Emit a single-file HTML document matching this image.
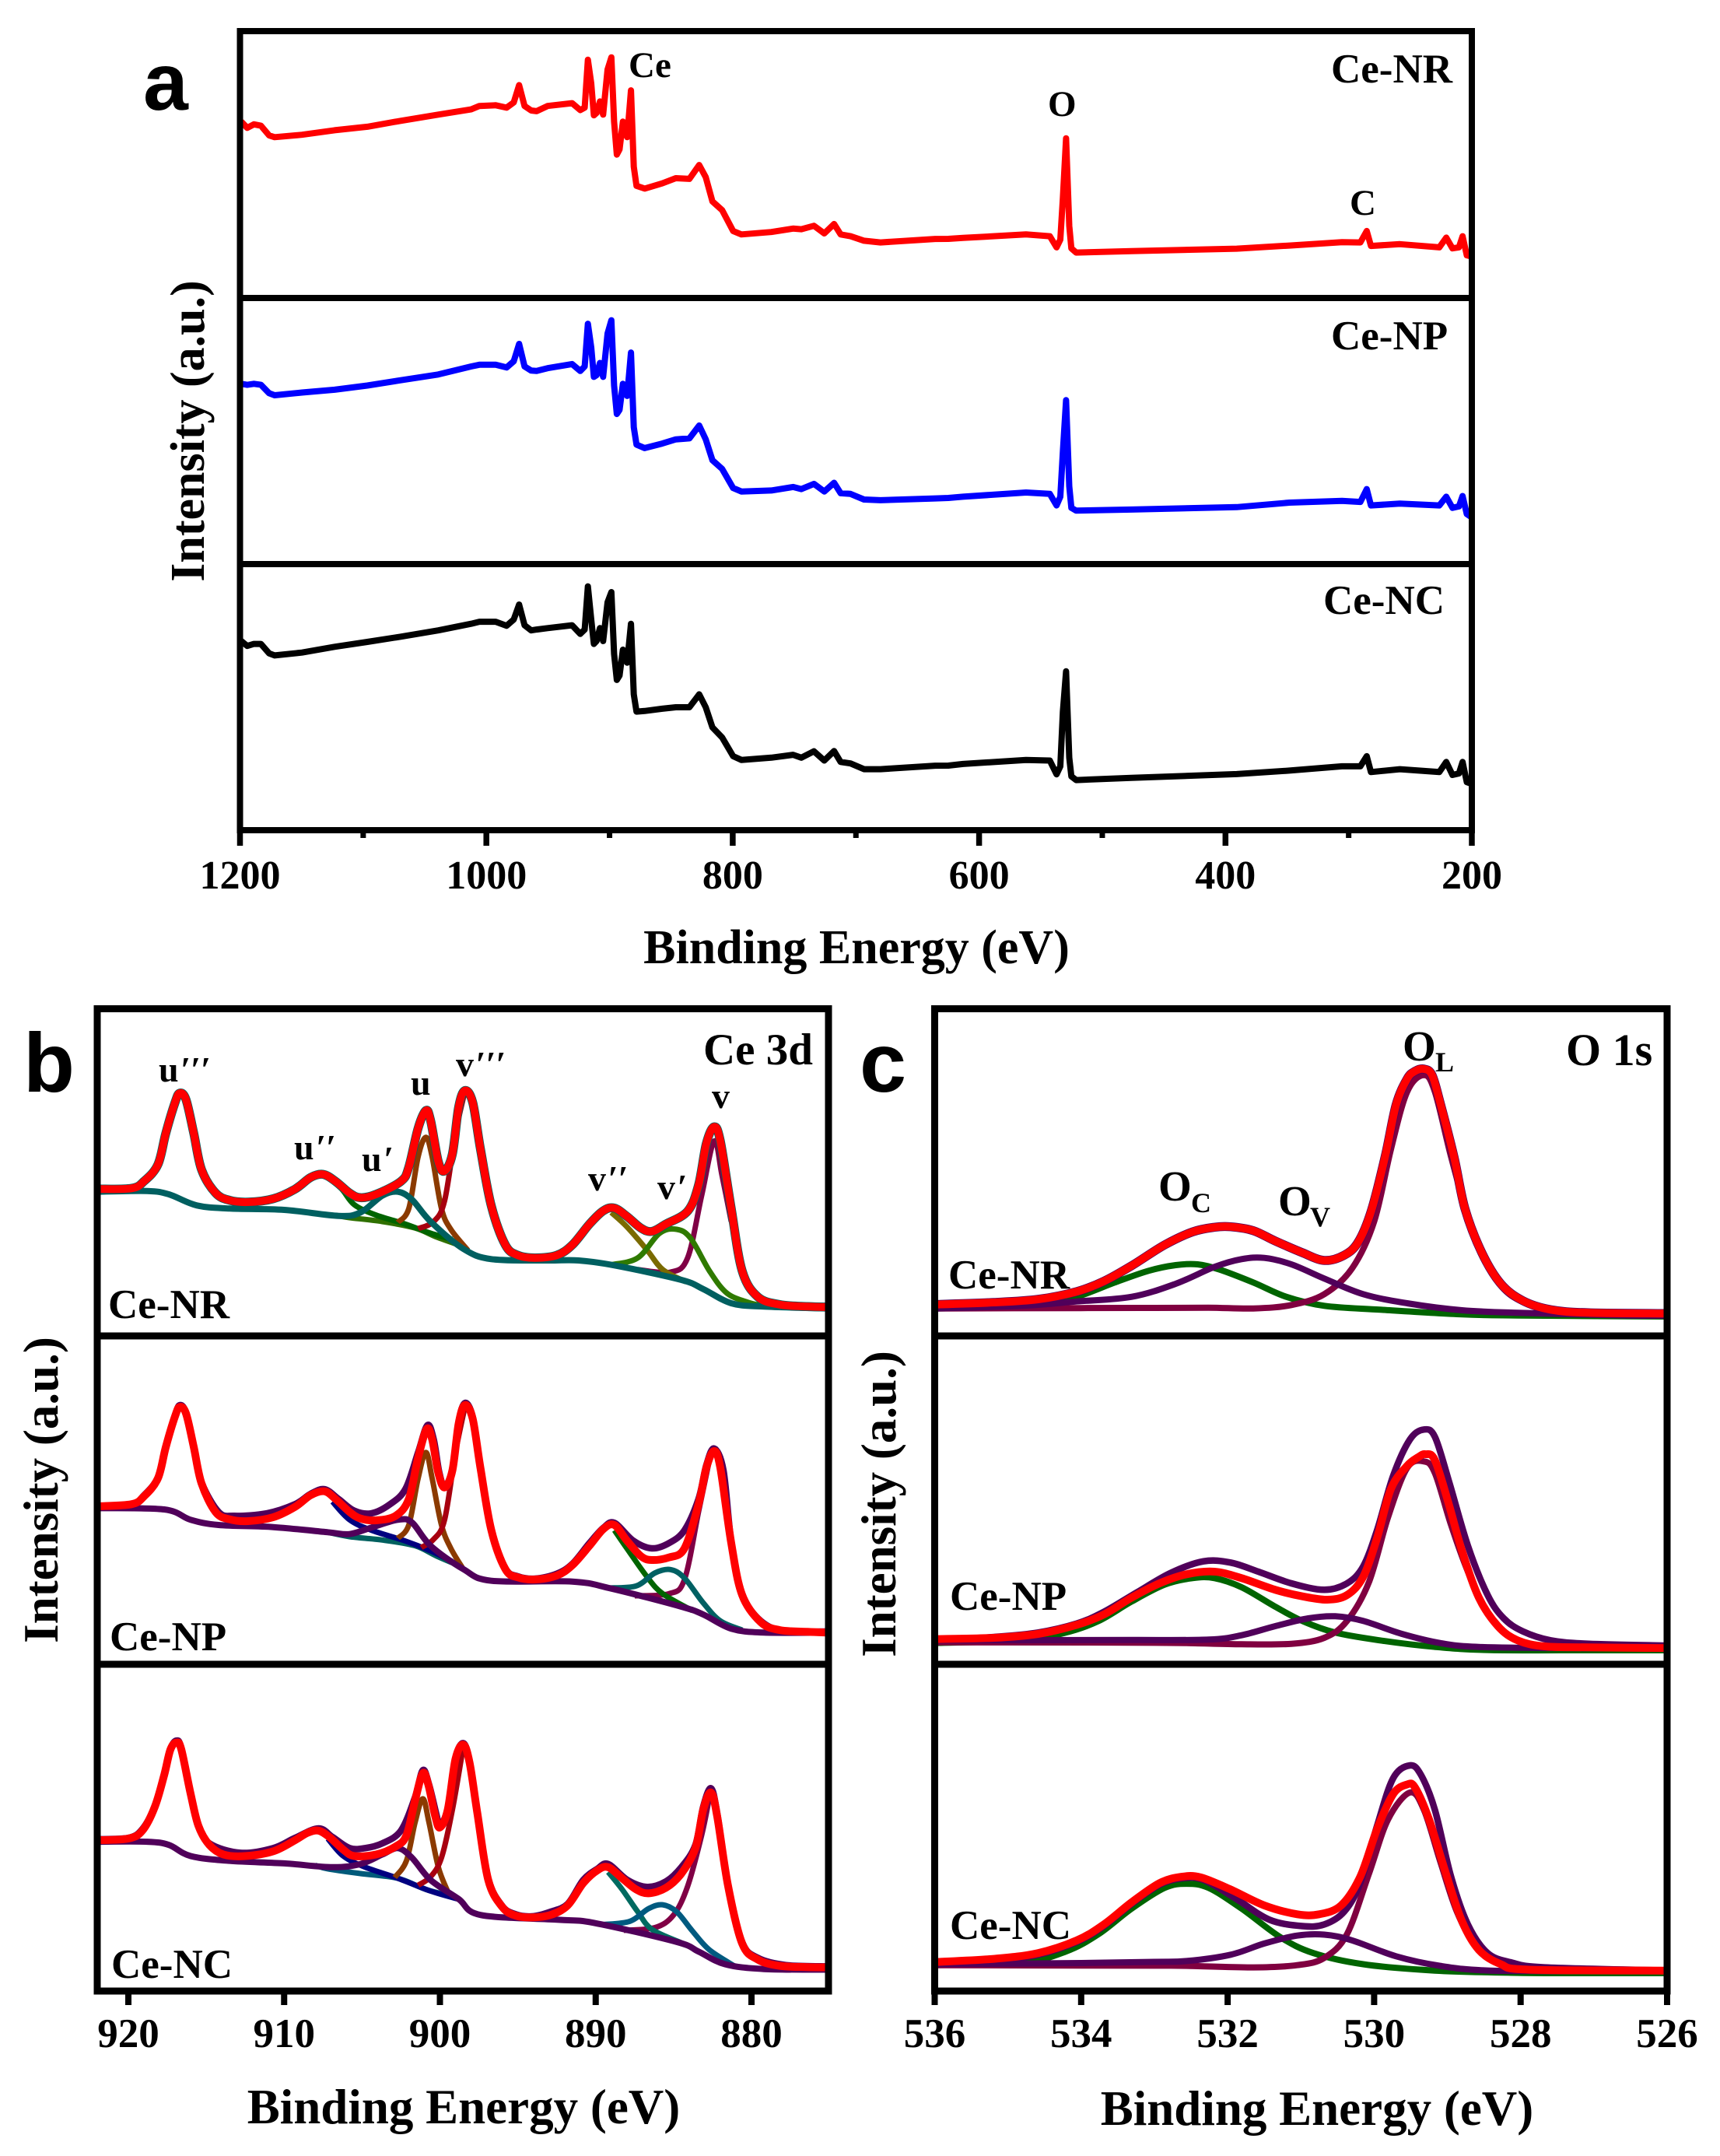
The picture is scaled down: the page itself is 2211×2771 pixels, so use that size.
<!DOCTYPE html>
<html lang="en">
<head>
<meta charset="utf-8">
<title>XPS spectra of Ce-NR, Ce-NP and Ce-NC</title>
<style>
html,body{margin:0;padding:0;background:#fff;}
svg{display:block;}
text{font-family:"Liberation Serif","DejaVu Serif",serif;font-weight:700;fill:#000;}
.panel-letter{font-family:"Liberation Sans","DejaVu Sans",sans-serif;}
</style>
</head>
<body>
<svg id="figure" xmlns="http://www.w3.org/2000/svg" width="2211" height="2771" viewBox="0 0 2211 2771">
<rect x="0" y="0" width="2211" height="2771" fill="#ffffff"/>
<g id="marks"></g>
<g id="frames"></g>
<g id="ticks"></g>

<text class="panel-letter" x="184" y="141" font-size="104">a</text>
<text class="panel-letter" x="30" y="1403" font-size="108">b</text>
<text class="panel-letter" x="1105" y="1403" font-size="108">c</text>

<text x="1101" y="1238" font-size="62" text-anchor="middle">Binding Energy (eV)</text>
<text x="596" y="2729" font-size="63" text-anchor="middle">Binding Energy (eV)</text>
<text x="1693" y="2731" font-size="63" text-anchor="middle">Binding Energy (eV)</text>
<text transform="translate(262 554) rotate(-90)" font-size="62" text-anchor="middle">Intensity (a.u.)</text>
<text transform="translate(74 1915) rotate(-90)" font-size="63" text-anchor="middle">Intensity (a.u.)</text>
<text transform="translate(1151 1933) rotate(-90)" font-size="63" text-anchor="middle">Intensity (a.u.)</text>

<text x="808" y="99" font-size="47">Ce</text>
<text x="1347" y="149" font-size="47">O</text>
<text x="1735" y="276" font-size="47">C</text>
<text x="1711" y="106" font-size="53">Ce-NR</text>
<text x="1711" y="449" font-size="53">Ce-NP</text>
<text x="1701" y="789" font-size="53">Ce-NC</text>

<text x="204" y="1390" font-size="46">u<tspan font-style="italic" dx="2">′′′</tspan></text>
<text x="378" y="1490" font-size="46">u<tspan font-style="italic" dx="2">′′</tspan></text>
<text x="465" y="1505" font-size="46">u<tspan font-style="italic" dx="2">′</tspan></text>
<text x="528" y="1407" font-size="46">u</text>
<text x="586" y="1383" font-size="46">v<tspan font-style="italic" dx="2">′′′</tspan></text>
<text x="756" y="1530" font-size="46">v<tspan font-style="italic" dx="2">′′</tspan></text>
<text x="845" y="1541" font-size="46">v<tspan font-style="italic" dx="2">′</tspan></text>
<text x="915" y="1424" font-size="46">v</text>
<text x="904" y="1368" font-size="57">Ce 3d</text>
<text x="139" y="1694" font-size="53">Ce-NR</text>
<text x="141" y="2121" font-size="53">Ce-NP</text>
<text x="143" y="2542" font-size="53">Ce-NC</text>

<text x="2013" y="1369" font-size="58">O 1s</text>
<text x="1803" y="1363" font-size="55">O</text>
<text x="1845" y="1377" font-size="36">L</text>
<text x="1489" y="1543" font-size="55">O</text>
<text x="1531" y="1558" font-size="36">C</text>
<text x="1643" y="1562" font-size="55">O</text>
<text x="1684" y="1576" font-size="36">V</text>
<text x="1219" y="1656" font-size="53">Ce-NR</text>
<text x="1221" y="2069" font-size="53">Ce-NP</text>
<text x="1221" y="2492" font-size="53">Ce-NC</text>
</svg>

<script>
// ---- Panel a: survey spectra ----
const surveyEnergy = [1199,1194.1,1188.7,1183,1176.3,1171.9,1149.7,1123.2,1096.6,1070,1039,1012.4,1005.7,992.4,983.6,977.8,973.4,969,963.6,959.2,950.3,930.4,923.8,920.2,917.6,914.9,912.7,910.5,907.8,905.2,901.6,898.5,896.3,894.1,891.9,889.2,885.7,882.6,880.3,878.1,871.5,857.3,846.2,835.2,827.2,821.9,816.5,808.6,799.7,793,768.7,751,744.3,734.1,725.7,717.7,712.4,704.4,693.4,680.1,635.7,
625,613.1,561.9,542.6,537.1,534.1,532,529.4,526.8,525.1,521.2,476.4,390.9,348.1,305.4,290.5,285.3,281.9,258.4,226.4,220.8,215.7,210.5,207.5,204.1,200.7];
const surveyNR = [226.7,218.7,223.2,221.4,208.9,206.7,209.8,215.6,220.1,227.6,235.7,242.4,246.8,247.7,244.6,251.3,273.6,246.8,241,240.1,246.8,250.4,241.5,244.6,306.2,275.9,234.8,237.9,252.6,235.7,293.7,309.3,226.7,184.3,191,226.7,206.7,266.9,168.7,144.2,140.6,147.3,154,153.1,170.9,155.3,124.1,112.9,86.1,81.7,84.8,89.2,88.4,92.8,83,95.1,81.7,79.4,73.6,71.4,75.9,
76,77.2,81.7,79.4,65.1,75,128.5,205.3,92.8,63.8,58.4,60.2,63.4,67.4,71.8,71.4,86.1,66.9,69.2,65.1,77.6,63.8,65.1,79.4,54.9,53.5];
const surveyNP = [231.7,230.4,231.7,230.4,219.6,217,220.5,224.1,229.5,236.2,243.7,254,256.2,256.2,252.7,260.7,283,254,248.7,248.2,251.8,257.1,248.2,254,308.9,278.6,240.6,242.9,258.5,240.6,296.4,313.4,229.5,192.9,198.2,231.7,216.1,271.9,175.9,153.6,149.1,154.9,160.3,161.6,178.1,160.3,133.5,122.3,97.8,93.3,94.6,99.1,96.4,103.1,93.3,104.5,91.1,90.2,83,82.1,84.4,
85,86.6,92,90.2,75.4,86.6,144.6,210.7,100,72.3,68.7,70.1,73.2,79,81.2,79.9,96.4,75.4,77.7,75.4,86.6,72.3,74.1,87.5,64.3,60.7];
const surveyNC = [243.1,236.8,239.4,239.4,227.2,224.6,228.3,235.7,242,248.6,256.8,265.3,267.9,267.9,262.7,270.8,290,263.4,256.8,257.9,259.7,263.4,252.3,257.9,313.4,270.8,239.4,243.1,259.7,243.1,293,306,226.4,193.1,198.7,232,215.3,265.3,174.6,152.4,153.2,156.1,158,158,174.6,158,132.1,119.1,95.1,90.3,93.2,96.9,93.2,101.4,89.5,101.7,87.7,85.8,78.4,78.4,82.9,
83,85.1,90.3,89.5,71.8,82.1,152.4,204.2,93.2,69.2,64.4,67.3,72.1,76.6,82.1,82.1,95.1,74.7,78.4,74.7,87.7,71,72.9,87.7,61.8,59.9];
const surveyTicksMajor = [1200,1000,800,600,400,200];
const surveyTicksMinor = [1100,900,700,500,300];

// ---- Panel b: Ce 3d, [binding energy eV, intensity a.u.] ----
const ce3dTicks = [920,910,900,890,880];

const ce3dNrEnvelope = [[922,188.7],[919.8,189.7],[919,198.7],[918.1,220.3],[917.6,260.3],[917,300.3],[916.7,312],[916.3,303.7],[915.8,260.3],[915.3,213.7],[914.4,183.7],[913.5,174.3],[912.3,172],[910.7,176.3],[909.3,188.7],[908.3,203.7],[907.5,207.7],[906.7,198.7],[905.8,183.7],[905.1,177.7],[904.1,182],[902.5,198.7],[902,217],[901.4,267],[900.9,289.7],[900.6,277],[900.1,223.7],[899.7,212],[899.2,233.7],[898.8,293.7],[898.4,315.3],[897.9,300.3],[897.4,240.3],[896.7,167],[895.8,117],[895,103.7],[893.9,100.3],[892.5,103.7],[891.5,117],[890.4,143.7],[889.5,161],[888.8,164.3],[888,153.7],[887.1,138.7],[886.4,134.3],[885.5,143.7],[884.1,160.3],[883.4,193.7],[882.9,247],[882.4,268.7],[882,250.3],[881.3,163.7],[880.6,83.7],[879.6,50.3],[878.2,40.3],[876.4,37.7],[875,37]];
const ce3dNrBackground = [[922,185.3],[918.8,186.3],[917.4,182],[915.6,167.7],[913.5,163.7],[910,162],[906.5,154.3],[905.1,158.7],[903.7,180.3],[902.7,185.3],[901.8,175.3],[900.6,147],[898.5,112],[896.7,98.7],[893.2,97],[891.1,97],[888.7,90.3],[884.5,72],[883.1,60.3],[881.3,42],[879.2,37.7],[875,35.3]];
const ce3dNrBase = [[906.5,154.3],[905.8,152],[903.7,147],[901.6,138.7],[900.2,127],[898.8,117]];
const ce3dNrU2 = [[907.2,203.7],[906.3,188.7],[905.5,168.7],[904.1,155.3],[902.3,144.3],[900.6,132],[899.2,124]];
const ce3dNrU = [[902.7,146],[902,163.7],[901.4,230.3],[900.9,255.3],[900.5,230.3],[899.9,163.7],[899.3,137],[898.2,110]];
const ce3dNrV3 = [[901.4,138],[900.4,147],[899.7,173.7],[899,260.3],[898.4,313.7]];
const ce3dNrV = [[887.3,85.3],[885.2,82],[884.1,100.3],[883.2,180.3],[882.4,250.3],[881.9,207],[881.3,147]];
const ce3dNrV2 = [[889,158.7],[888,140.3],[886.7,110.3],[885.7,85.3],[884.2,69.5]];
const ce3dNrV1 = [[889,91.5],[887.3,100.3],[885.9,132],[884.8,137],[883.9,125.3],[882.7,83.7],[881.6,55.3],[880.3,43.7],[879.2,38]];

const ce3dNpEnvelope = [[922,203],[919.8,205.7],[919,215.7],[918.1,239],[917.6,279],[917,319],[916.7,330.7],[916.3,322.3],[915.8,279],[915.3,232.3],[914.4,195.7],[913.5,186.3],[912.3,184],[910.7,189],[909.3,202.3],[908.3,217.3],[907.4,222.3],[906.7,212.3],[905.8,195.7],[905.1,187.3],[904.1,185],[902.85,190.7],[902,212.3],[901.4,265.7],[900.85,302.3],[900.5,289],[900.1,245.7],[899.7,227.3],[899.2,249],[898.8,309],[898.4,333],[897.9,315.7],[897.4,252.3],[896.7,172.3],[895.8,122.3],[895,111.7],[893.9,109],[892.5,114],[891.5,127.3],[890.4,152.3],[889.5,174],[888.8,179],[888,159],[887.1,139],[886.4,134],[885.3,137.3],[884.3,149],[883.4,205.7],[882.9,252.3],[882.4,274],[882,252.3],[881.3,155.7],[880.6,89],[879.4,54],[878.2,44],[876.4,41.7],[875,40.7]];
const ce3dNpRaw = [[922,201.7],[919.8,204],[919.1,215],[918.1,240],[917.6,280.7],[917,320],[916.7,333],[916.3,323.5],[915.8,280.7],[915.3,234],[914.2,195.7],[913.2,190.7],[911.1,194],[909.3,205.7],[908.3,219],[907.4,225],[906.5,212.3],[905.5,197.3],[904.4,194],[903.2,205.7],[902.2,225.7],[901.4,272.3],[900.8,307.3],[900.4,289],[900.05,247.3],[899.7,229],[899.2,250.7],[898.8,311],[898.4,335.7],[897.9,318],[897.4,254],[896.7,174],[895.8,123.5],[895,113],[893.9,110],[892.5,116.3],[891.5,129],[890.4,155.7],[889.5,175.5],[888.8,181.7],[887.6,159],[886.4,149],[885.3,155.7],[884.3,172.3],[883.4,212.3],[882.9,255.7],[882.4,277.3],[881.8,249],[881.3,157.3],[880.6,90.7],[879.4,55.7],[877.8,42.3],[875,42.3]];
const ce3dNpBackground = [[922,200.7],[917.7,199],[916,185.7],[914.2,179],[910.7,176.3],[907.2,169.7],[905.8,167.3],[904.4,175.7],[902.7,185.7],[901.8,182.3],[900.6,152.3],[898.5,122.3],[896.7,107.3],[891.5,106.3],[889,97.3],[884.5,74],[883.1,64],[881.3,45.7],[879.2,40.7],[875,40.7]];
const ce3dNpU2 = [[906.9,209],[905.8,185.7],[904.4,172.3],[902.3,159],[900.6,145.7],[899.2,132]];
const ce3dNpBase = [[907.2,169.7],[905.8,164],[903.7,159.7],[901.6,152.3],[900.2,139],[898.8,127]];
const ce3dNpU = [[902.7,162],[902,179],[901.4,239],[900.9,272.3],[900.5,239],[899.9,179],[899.3,149],[898.5,122.3]];
const ce3dNpV3 = [[901.2,150],[900.4,160.7],[899.7,185.7],[899,272.3],[898.4,330]];
const ce3dNpV = [[887.5,88],[885.3,90.7],[884.3,109],[883.4,195.7],[882.7,262.3]];
const ce3dNpV2 = [[888.8,172.3],[888,149],[886.7,112.3],[885.7,90.7],[883.8,69]];
const ce3dNpV1 = [[889.2,98],[887.4,100.7],[886.2,117.3],[885.2,121.7],[884.3,110.7],[883.1,79],[882,55.7],[880.6,44]];

const ce3dNcEnvelope = [[922,193.9],[920,196],[919.1,206.2],[918.3,236.8],[917.7,277.7],[917.3,310.4],[916.9,319.4],[916.6,310.4],[916,253.2],[915.5,212.3],[914.8,187.8],[913.9,175.5],[912.5,173.5],[910.7,179.6],[909.3,193.9],[908.5,203.3],[907.8,206.2],[907.1,198],[906.2,181.7],[905.5,173.5],[904.1,175.5],[902.85,185.7],[902.15,200.1],[901.6,245],[901.1,279.8],[900.75,265.5],[900.3,224.6],[900,210.3],[899.5,232.8],[899,298.2],[898.5,316.6],[898.1,294.1],[897.6,228.7],[896.9,142.8],[896,108.1],[895.15,97],[894.1,94.6],[892.9,97.8],[891.8,110.1],[890.8,138.7],[889.9,155.1],[889.2,159.2],[888.3,144.9],[887.4,130.6],[886.6,125.6],[885.5,132.6],[884.5,151],[883.6,183.7],[883.1,232.8],[882.6,255.2],[882.2,224.6],[881.5,134.6],[880.6,61.1],[879.6,40.6],[878.2,32.4],[876.4,30.8],[875,30.4]];
const ce3dNcRaw = [[922,195.1],[920,196.8],[919.1,208.2],[918.3,238],[917.7,279.8],[917.3,311.5],[916.9,321.9],[916.6,312],[916,255.2],[915.5,214],[914.8,189.8],[912.8,177.6],[910.7,183.7],[909.3,196.8],[907.8,209],[906.9,198],[905.8,183.7],[904.8,183.7],[903.7,189.8],[902.5,206.2],[901.6,249.1],[901.1,283.9],[900.7,265.5],[900.2,224.6],[900,212.3],[899.5,234.8],[899,299.5],[898.5,318.6],[898.1,296],[897.6,230.7],[896.9,144.9],[896,109.5],[895.15,98.7],[894.1,96],[892.9,101.9],[891.8,112],[890.8,142.8],[889.9,157],[889.2,163.3],[887.97,142.8],[886.7,133.8],[885.5,140.8],[884.5,159.2],[883.6,187.8],[883.1,236.8],[882.6,260.6],[882.2,228.7],[881.5,136.7],[880.6,63.1],[879.6,42.7],[877.8,33.3],[875,31.6]];
const ce3dNcBackground = [[922,191.9],[918.8,191.9],[917.4,187.8],[916,173.5],[913.5,167.3],[910,164.1],[906.9,159.2],[905.1,163.3],[903.7,175.5],[902.7,183.7],[901.8,171.4],[900.6,142.8],[898.8,118.3],[897.4,97.8],[892.5,91.7],[890.1,87.6],[884.8,63.1],[883.4,50.8],[881.7,34.5],[879.2,28.3],[875,27.5]];
const ce3dNcU2 = [[907.2,196],[906.2,173.5],[904.8,159.2],[902.7,144.9],[900.6,128.5],[898.8,118]];
const ce3dNcBase = [[908,161.5],[907.2,157.1],[905.1,151],[902.7,144.9],[900.9,130.6],[899.2,122]];
const ce3dNcU = [[902.9,146],[902.15,167.3],[901.6,216.4],[901.1,247.1],[900.7,216.4],[900.1,159.2],[899.5,128]];
const ce3dNcV3 = [[901.4,136],[900.6,146.9],[899.9,171.4],[899.2,232.8],[898.5,314]];
const ce3dNcV = [[888.2,78],[886.2,81.5],[885,97.8],[884.1,134.6],[883.2,200.1],[882.7,249.1]];
const ce3dNcV2 = [[889.2,153],[888.3,130.6],[887.3,101.9],[886.4,79.4],[884.5,62]];
const ce3dNcV1 = [[889.5,85.5],[887.8,89.7],[886.6,106],[885.7,110.9],[884.8,101.9],[883.8,77.4],[882.7,52.9],[881,31]];

// ---- Panel c: O 1s, [binding energy eV, intensity a.u.] ----
const o1sTicks = [536,534,532,530,528,526];

const o1sNrEnvelope = [[536,40.3],[535.19,43],[534.59,47],[534.06,57],[533.69,70.3],[533.31,90.3],[532.86,117],[532.48,133.7],[532.18,139.7],[531.96,140.3],[531.65,135.3],[531.35,122],[530.98,107],[530.68,97],[530.41,103.7],[530.22,120.3],[530.04,160.3],[529.85,230.3],[529.7,297],[529.55,330.3],[529.44,340.3],[529.32,343],[529.21,335.3],[529.1,300.3],[528.91,230.3],[528.76,163.7],[528.53,107],[528.27,67],[527.97,45.3],[527.59,33.7],[527.07,29.7],[526,28.7]];
const o1sNrGreen = [[536,35.3],[534.59,38.7],[534.06,50.3],[533.54,68.7],[533.08,83.7],[532.71,91],[532.41,92],[532.11,85.3],[531.65,68.7],[531.2,50.3],[530.68,38.7],[529.92,33.7],[528.8,27.7],[528.04,26.3],[526.54,25.3],[526,25]];
const o1sNrPurple = [[536,35.3],[534.81,38.7],[534.06,44.3],[533.31,50.3],[532.71,67],[532.18,88.7],[531.81,98.7],[531.5,100.3],[531.13,92],[530.68,73.7],[530.15,53.7],[529.55,42],[528.8,33],[528.04,29.7],[526.54,26.3],[526,26]];
const o1sNrMaroon = [[536,35.3],[534,35.8],[533,36],[532.26,36.3],[531.65,35.3],[531.13,39.7],[530.68,53.7],[530.3,87],[530,147],[529.77,240.3],[529.55,313.7],[529.32,335.3],[529.17,313.7],[528.95,230.3],[528.72,153.7],[528.49,97],[528.23,60.3],[527.93,42],[527.52,32],[526.54,27.7],[526,27]];

const o1sNpEnvelope = [[536,32.3],[535.19,34],[534.59,39],[534.06,50.7],[533.69,64],[533.31,85.7],[532.93,104],[532.56,115.7],[532.18,119],[531.81,110.7],[531.35,95.7],[530.98,87.3],[530.64,83],[530.37,89],[530.15,112.3],[529.96,162.3],[529.77,225.7],[529.55,255],[529.4,266],[529.3,270],[529.17,262.3],[528.98,205.7],[528.8,145.7],[528.57,85.7],[528.31,49],[528.04,30.7],[527.67,23],[527.07,21.7],[526,20.7]];
const o1sNpRaw = [[536,30.7],[535.19,35],[534.59,40.7],[534.06,52.3],[533.69,67.3],[533.24,92.3],[532.78,117.3],[532.33,132.3],[531.96,130.7],[531.58,119],[531.13,104],[530.68,95.7],[530.37,104],[530.15,125.7],[529.96,172.3],[529.74,242.3],[529.51,289],[529.32,301.7],[529.17,292.3],[528.98,235.7],[528.72,152.3],[528.45,89],[528.23,59],[527.97,42.3],[527.59,30.7],[527.07,26.3],[526,24]];
const o1sNpGreen = [[536,27.3],[534.81,30.7],[534.21,40.7],[533.76,55.7],[533.31,80.7],[532.86,102.3],[532.48,110.7],[532.18,110.7],[531.81,99],[531.35,74],[530.98,55.7],[530.53,40.7],[529.92,30.7],[529.17,22.3],[528.42,18.3],[527,18],[526,18]];
const o1sNpPurple = [[536,30.7],[534.5,31],[533.3,31.2],[532.26,31.7],[531.81,37.3],[531.35,49],[530.9,59],[530.53,61.7],[530.15,55.7],[529.62,39],[529.1,27.3],[528.57,22.3],[527.29,20.7],[526,20.7]];
const o1sNpMaroon = [[536,28.3],[534,28],[533,27.6],[532.56,27.3],[531.81,25.7],[531.13,26.3],[530.68,34],[530.37,55.7],[530.07,105.7],[529.81,189],[529.55,252.3],[529.32,260.7],[529.17,245.7],[528.95,179],[528.72,119],[528.49,72.3],[528.19,39],[527.89,25.7],[527.37,21.7],[526.54,20.7],[526,20.7]];

const o1sNcEnvelope = [[536,37.3],[535.19,41.4],[534.59,48.8],[534.06,65.1],[533.69,85.6],[533.31,114.2],[532.93,138.7],[532.63,146.9],[532.37,146.1],[531.96,130.6],[531.5,110.1],[531.05,98.7],[530.75,98.7],[530.45,110.1],[530.19,146.9],[529.96,208.2],[529.74,253.2],[529.55,265.5],[529.44,261.4],[529.25,220.5],[529.02,151],[528.8,89.7],[528.57,52.9],[528.27,34.5],[527.89,27.5],[526,26.3]];
const o1sNcRaw = [[536,34.5],[535.19,39.8],[534.59,46.7],[534.06,63.1],[533.69,83.5],[533.31,112.2],[532.93,136.7],[532.63,144.9],[532.33,142.8],[531.88,118.3],[531.43,91.7],[530.98,83.5],[530.68,85.6],[530.41,101.9],[530.19,138.7],[529.96,212.3],[529.74,273.6],[529.51,290],[529.36,277.7],[529.17,232.8],[528.95,146.9],[528.72,85.6],[528.45,48.8],[528.12,36.5],[527.67,30.4],[526,26.3]];
const o1sNcGreen = [[536,33.3],[534.81,36.5],[534.21,50.8],[533.76,73.3],[533.31,106],[532.86,132.6],[532.56,137.9],[532.26,132.6],[531.81,106],[531.28,69.2],[530.83,48.8],[530.15,34.5],[529.17,26.3],[528.04,23.4],[527,23],[526,23]];
const o1sNcPurple = [[536,34.5],[534,36],[533,37.5],[532.56,38.6],[531.96,46.7],[531.5,61.1],[531.05,71.3],[530.68,72.5],[530.3,65.1],[529.7,44.7],[529.1,32.4],[528.42,26.3],[527,26],[526,26.3]];
const o1sNcMaroon = [[536,33.3],[534,32.8],[533,32.6],[532.56,32.4],[531.65,30.4],[531.05,33.3],[530.68,42.7],[530.37,73.3],[530.07,151],[529.81,220.5],[529.51,255.2],[529.32,232.8],[529.1,167.3],[528.87,101.9],[528.61,57],[528.31,36.5],[527.89,26.3],[527,26],[526,26]];

// ---- Axis functions ----
const SVG_NS = 'http://www.w3.org/2000/svg';
const marksLayer = document.getElementById('marks');
const framesLayer = document.getElementById('frames');
const ticksLayer = document.getElementById('ticks');

function linearAxis(d0, d1, p0, p1) {
  return function (v) { return p0 + (v - d0) * (p1 - p0) / (d1 - d0); };
}
const xSurvey = linearAxis(1200, 200, 308.5, 1892);
const xCe3d = linearAxis(920, 880, 165, 966);
const xO1s = linearAxis(536, 526, 1201.5, 2143);
function yAxis(bottom) {
  return function (v) { return bottom - v; };
}

function linePath(pts) {
  return pts.map(function (p, i) { return (i ? 'L' : 'M') + p[0].toFixed(1) + ' ' + p[1].toFixed(1); }).join('');
}
function smoothPath(pts) {
  let d = 'M' + pts[0][0].toFixed(1) + ' ' + pts[0][1].toFixed(1);
  for (let i = 0; i < pts.length - 1; i++) {
    const a = pts[Math.max(i - 1, 0)], b = pts[i], c = pts[i + 1], e = pts[Math.min(i + 2, pts.length - 1)];
    const k = 1 / 6;
    d += 'C' + (b[0] + (c[0] - a[0]) * k).toFixed(1) + ' ' + (b[1] + (c[1] - a[1]) * k).toFixed(1) + ' ' +
      (c[0] - (e[0] - b[0]) * k).toFixed(1) + ' ' + (c[1] - (e[1] - b[1]) * k).toFixed(1) + ' ' +
      c[0].toFixed(1) + ' ' + c[1].toFixed(1);
  }
  return d;
}

function drawSeries(name, pairs, xf, yf, color, width, straight) {
  const pts = pairs.map(function (p) { return [xf(p[0]), yf(p[1])]; });
  const path = document.createElementNS(SVG_NS, 'path');
  path.setAttribute('d', straight ? linePath(pts) : smoothPath(pts));
  path.setAttribute('fill', 'none');
  path.setAttribute('stroke', color);
  path.setAttribute('stroke-width', width);
  path.setAttribute('stroke-linejoin', 'round');
  path.setAttribute('stroke-linecap', 'butt');
  
  
  marksLayer.appendChild(path);
}

function zipSurvey(values) {
  return surveyEnergy.map(function (e, i) { return [e, values[i]]; });
}

// Survey traces
drawSeries('survey-ce-nr', zipSurvey(surveyNR), xSurvey, yAxis(383), '#ff0000', 8, true);
drawSeries('survey-ce-np', zipSurvey(surveyNP), xSurvey, yAxis(725), '#0000ff', 8, true);
drawSeries('survey-ce-nc', zipSurvey(surveyNC), xSurvey, yAxis(1067), '#000000', 8, true);

// Ce 3d Ce-NR
const yB1 = yAxis(1717);
drawSeries('ce3d-nr-base', ce3dNrBase, xCe3d, yB1, '#2f7000', 7);
drawSeries('ce3d-nr-u2-peak', ce3dNrU2, xCe3d, yB1, '#006400', 7);
drawSeries('ce3d-nr-u-peak', ce3dNrU, xCe3d, yB1, '#8b3a00', 7);
drawSeries('ce3d-nr-v3-peak', ce3dNrV3, xCe3d, yB1, '#a8000f', 7);
drawSeries('ce3d-nr-v-peak', ce3dNrV, xCe3d, yB1, '#800045', 7);
drawSeries('ce3d-nr-v2-peak', ce3dNrV2, xCe3d, yB1, '#7a6a00', 7);
drawSeries('ce3d-nr-v1-peak', ce3dNrV1, xCe3d, yB1, '#2f7a00', 7);
drawSeries('ce3d-nr-background', ce3dNrBackground, xCe3d, yB1, '#005f60', 8);
drawSeries('ce3d-nr-raw', ce3dNrEnvelope, xCe3d, yB1, '#005f60', 11.5);
drawSeries('ce3d-nr-envelope', ce3dNrEnvelope, xCe3d, yB1, '#ff0000', 10);

// Ce 3d Ce-NP
const yB2 = yAxis(2139);
drawSeries('ce3d-np-base', ce3dNpBase, xCe3d, yB2, '#00605f', 7);
drawSeries('ce3d-np-u2-peak', ce3dNpU2, xCe3d, yB2, '#000080', 7);
drawSeries('ce3d-np-u-peak', ce3dNpU, xCe3d, yB2, '#8b3a00', 7);
drawSeries('ce3d-np-v3-peak', ce3dNpV3, xCe3d, yB2, '#a8000f', 7);
drawSeries('ce3d-np-v-peak', ce3dNpV, xCe3d, yB2, '#800045', 7);
drawSeries('ce3d-np-v2-peak', ce3dNpV2, xCe3d, yB2, '#006400', 7);
drawSeries('ce3d-np-v1-peak', ce3dNpV1, xCe3d, yB2, '#006063', 7);
drawSeries('ce3d-np-background', ce3dNpBackground, xCe3d, yB2, '#50005a', 8);
drawSeries('ce3d-np-raw', ce3dNpRaw, xCe3d, yB2, '#50005a', 8.5);
drawSeries('ce3d-np-envelope', ce3dNpEnvelope, xCe3d, yB2, '#ff0000', 10);

// Ce 3d Ce-NC
const yB3 = yAxis(2559);
drawSeries('ce3d-nc-base', ce3dNcBase, xCe3d, yB3, '#005a7a', 7);
drawSeries('ce3d-nc-u2-peak', ce3dNcU2, xCe3d, yB3, '#000080', 7);
drawSeries('ce3d-nc-u-peak', ce3dNcU, xCe3d, yB3, '#8b3a00', 7);
drawSeries('ce3d-nc-v3-peak', ce3dNcV3, xCe3d, yB3, '#a8000f', 7);
drawSeries('ce3d-nc-v-peak', ce3dNcV, xCe3d, yB3, '#800045', 7);
drawSeries('ce3d-nc-v2-peak', ce3dNcV2, xCe3d, yB3, '#006a60', 7);
drawSeries('ce3d-nc-v1-peak', ce3dNcV1, xCe3d, yB3, '#005a80', 7);
drawSeries('ce3d-nc-background', ce3dNcBackground, xCe3d, yB3, '#50005a', 8);
drawSeries('ce3d-nc-raw', ce3dNcRaw, xCe3d, yB3, '#50005a', 8.5);
drawSeries('ce3d-nc-envelope', ce3dNcEnvelope, xCe3d, yB3, '#ff0000', 10);

// O 1s Ce-NR
drawSeries('o1s-nr-oc-peak', o1sNrGreen, xO1s, yB1, '#006400', 8);
drawSeries('o1s-nr-ol-peak', o1sNrMaroon, xO1s, yB1, '#800040', 8);
drawSeries('o1s-nr-ov-peak', o1sNrPurple, xO1s, yB1, '#50005a', 8);
drawSeries('o1s-nr-raw', o1sNrEnvelope, xO1s, yB1, '#50005a', 11.5);
drawSeries('o1s-nr-envelope', o1sNrEnvelope, xO1s, yB1, '#ff0000', 10);

// O 1s Ce-NP
drawSeries('o1s-np-oc-peak', o1sNpGreen, xO1s, yB2, '#006400', 8);
drawSeries('o1s-np-ol-peak', o1sNpMaroon, xO1s, yB2, '#800040', 8);
drawSeries('o1s-np-ov-peak', o1sNpPurple, xO1s, yB2, '#50005a', 8);
drawSeries('o1s-np-raw', o1sNpRaw, xO1s, yB2, '#50005a', 8.5);
drawSeries('o1s-np-envelope', o1sNpEnvelope, xO1s, yB2, '#ff0000', 10);

// O 1s Ce-NC
drawSeries('o1s-nc-oc-peak', o1sNcGreen, xO1s, yB3, '#006400', 8);
drawSeries('o1s-nc-ol-peak', o1sNcMaroon, xO1s, yB3, '#800040', 8);
drawSeries('o1s-nc-ov-peak', o1sNcPurple, xO1s, yB3, '#50005a', 8);
drawSeries('o1s-nc-raw', o1sNcRaw, xO1s, yB3, '#50005a', 8.5);
drawSeries('o1s-nc-envelope', o1sNcEnvelope, xO1s, yB3, '#ff0000', 10);

// ---- Frames ----
function drawRect(name, layer, x, y, w, h, sw) {
  const r = document.createElementNS(SVG_NS, 'rect');
  r.setAttribute('x', x);
  r.setAttribute('y', y);
  r.setAttribute('width', w);
  r.setAttribute('height', h);
  r.setAttribute('fill', 'none');
  r.setAttribute('stroke', '#000');
  r.setAttribute('stroke-width', sw);
  
  
  layer.appendChild(r);
}
drawRect('panel-a-frame-top', framesLayer, 308.5, 40, 1583.5, 343, 8);
drawRect('panel-a-frame-middle', framesLayer, 308.5, 383, 1583.5, 342, 8);
drawRect('panel-a-frame-bottom', framesLayer, 308.5, 725, 1583.5, 342, 8);
drawRect('panel-b-frame-top', framesLayer, 125, 1296.5, 940, 420.5, 9);
drawRect('panel-b-frame-middle', framesLayer, 125, 1717, 940, 422, 9);
drawRect('panel-b-frame-bottom', framesLayer, 125, 2139, 940, 420, 9);
drawRect('panel-c-frame-top', framesLayer, 1201.5, 1296.5, 941.5, 420.5, 9);
drawRect('panel-c-frame-middle', framesLayer, 1201.5, 1717, 941.5, 422, 9);
drawRect('panel-c-frame-bottom', framesLayer, 1201.5, 2139, 941.5, 420, 9);

// ---- Ticks and tick labels ----
function drawTick(name, x, y0, y1, sw) {
  const l = document.createElementNS(SVG_NS, 'line');
  l.setAttribute('x1', x);
  l.setAttribute('x2', x);
  l.setAttribute('y1', y0);
  l.setAttribute('y2', y1);
  l.setAttribute('stroke', '#000');
  l.setAttribute('stroke-width', sw);
  
  
  ticksLayer.appendChild(l);
}
function drawTickLabel(name, x, y, value, size) {
  const t = document.createElementNS(SVG_NS, 'text');
  t.setAttribute('x', x);
  t.setAttribute('y', y);
  t.setAttribute('font-size', size);
  t.setAttribute('text-anchor', 'middle');
  
  
  t.textContent = value;
  ticksLayer.appendChild(t);
}
surveyTicksMajor.forEach(function (v) {
  drawTick('x-tick-a-' + v, xSurvey(v), 1067, 1087, 7.5);
  drawTickLabel('x-tick-label-a-' + v, xSurvey(v), 1142, v, 52);
});
surveyTicksMinor.forEach(function (v) {
  drawTick('x-minor-tick-a-' + v, xSurvey(v), 1067, 1077, 7);
});
ce3dTicks.forEach(function (v) {
  drawTick('x-tick-b-' + v, xCe3d(v), 2559, 2577, 8);
  drawTickLabel('x-tick-label-b-' + v, xCe3d(v), 2631, v, 53);
});
o1sTicks.forEach(function (v) {
  drawTick('x-tick-c-' + v, xO1s(v), 2559, 2577, 8);
  drawTickLabel('x-tick-label-c-' + v, xO1s(v), 2631, v, 53);
});
</script>
</body>
</html>
